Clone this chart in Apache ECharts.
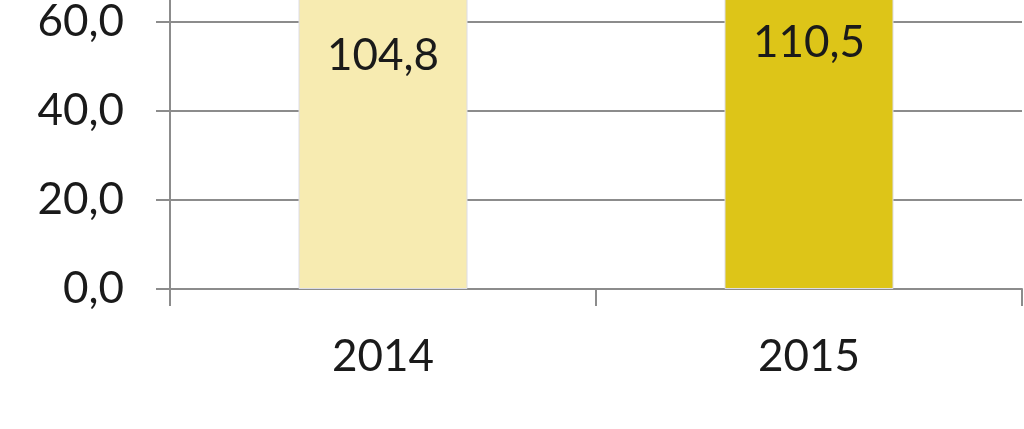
<!DOCTYPE html>
<html>
<head>
<meta charset="utf-8">
<script src="https://cdn.jsdelivr.net/npm/echarts@6/dist/echarts.min.js"></script>
<style>
  html, body { margin: 0; padding: 0; background: #fff; }
  /* the picture is a crop of a taller chart: the plot runs above the top edge */
  #frame { width: 1024px; height: 429px; overflow: hidden; position: relative; }
  #main { width: 1024px; height: 674px; position: absolute; left: 0; top: -245px; }
</style>
</head>
<body>
<div id="frame"><div id="main"></div></div>
<script>
// categories and values
var years = ['2014', '2015'];
var values = [104.8, 110.5];
var barColors = ['#F7EBB1', '#DDC518'];

function fmt(v) {
    return v.toFixed(1).replace('.', ',');
}

var chart = echarts.init(document.getElementById('main'));

var option = {
    animation: false,
    textStyle: {fontFamily: 'Lato'},
    grid: {left: 170, right: 2, top: 0, bottom: 140, containLabel: false, outerBoundsMode: 'none'},
    xAxis: {
        type: 'category',
        data: years,
        axisLine: {lineStyle: {color: '#8c8c8c', width: 2}},
        axisTick: {show: true, length: 17, lineStyle: {color: '#8c8c8c', width: 2}},
        axisLabel: {color: '#1a1a1a', fontSize: 44, margin: 44, lineHeight: 48}
    },
    yAxis: {
        type: 'value',
        min: 0,
        max: 120,
        interval: 20,
        axisLine: {show: true, lineStyle: {color: '#8c8c8c', width: 2}},
        axisTick: {show: true, length: 14, lineStyle: {color: '#8c8c8c', width: 2}},
        splitLine: {lineStyle: {color: '#8c8c8c', width: 2}},
        axisLabel: {
            color: '#1a1a1a',
            fontSize: 44,
            margin: 46,
            formatter: fmt
        }
    },
    series: [{
        type: 'bar',
        barWidth: 169,
        data: values.map(function (v, i) {
            return {value: v, itemStyle: {color: barColors[i], borderColor: '#dcdce6', borderWidth: 1}};
        }),
        label: {
            show: true,
            position: 'inside',
            color: '#1a1a1a',
            fontSize: 44,
            formatter: function (p) { return fmt(p.value); }
        }
    }]
};

chart.setOption(option);
</script>
</body>
</html>
